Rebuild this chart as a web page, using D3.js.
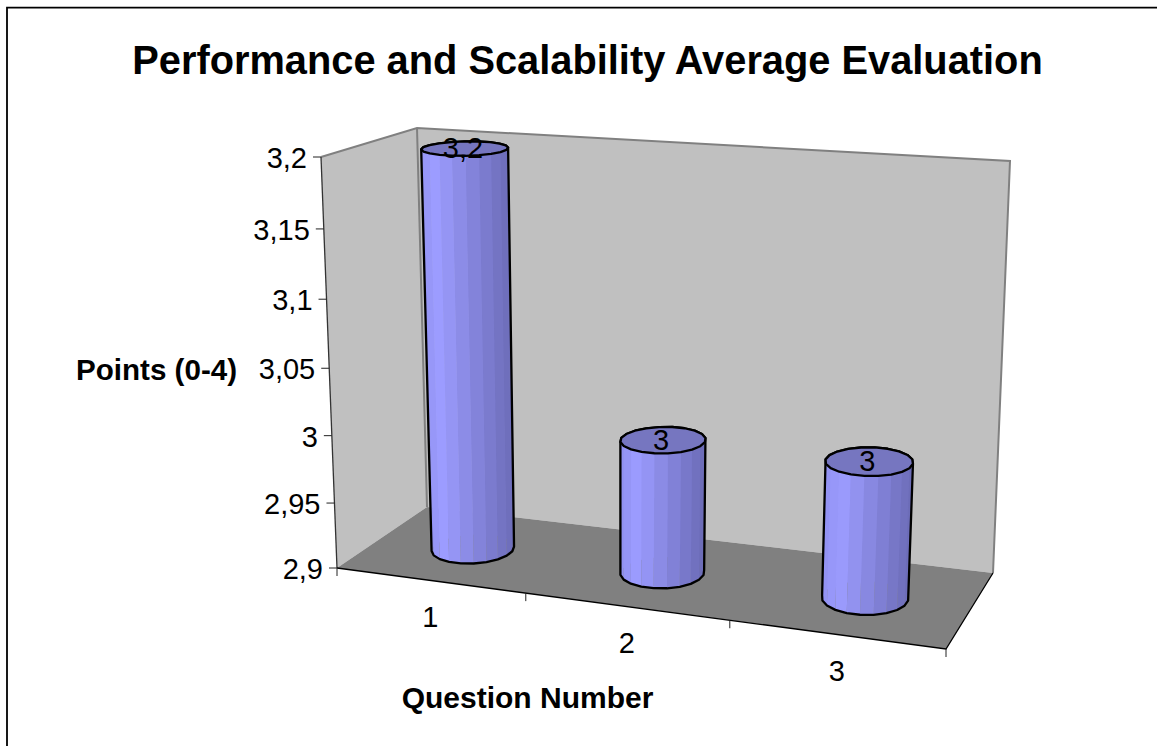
<!DOCTYPE html>
<html><head><meta charset="utf-8">
<script src="https://cdn.jsdelivr.net/npm/d3@7"></script>
<style>html,body{margin:0;padding:0;background:#fff}svg{display:block}text{font-family:"Liberation Sans",Arial,sans-serif;fill:#000}</style>
</head><body><svg id="c" width="1157" height="746"></svg>
<script>
const titleText = "Performance and Scalability Average Evaluation";
const xTitle = "Question Number";
const yTitle = "Points (0-4)";
const categories = [1, 2, 3];
const values = [3.2, 3, 3];
const yTicks = [2.9, 2.95, 3, 3.05, 3.1, 3.15, 3.2];

const svg = d3.select("#c");
const loc = d3.formatLocale({decimal:",",thousands:".",grouping:[3],currency:["","€"]});
const fmtTick = loc.format(".2~f"), fmtLabel = loc.format(".1~f");

// box corners: [depth][height] at left (L) and right (R) of the chart
const L = {fb:[337,568], ft:[321,157], bb:[427,507], bt:[417,128]};
const R = {fb:[946,649], ft:[966,202], bb:[993,573], bt:[1010,161]};
const lerp = (a,b,t)=>a+(b-a)*t;
const lerpP = (a,b,t)=>[lerp(a[0],b[0],t),lerp(a[1],b[1],t)];
// u along category axis, v depth, w height
function proj(u,v,w){
  const bot = lerpP(lerpP(L.fb,L.bb,v),lerpP(R.fb,R.bb,v),u);
  const top = lerpP(lerpP(L.ft,L.bt,v),lerpP(R.ft,R.bt,v),u);
  return lerpP(bot,top,w);
}
// piecewise ranges approximate the chart's perspective foreshortening
const yScale = d3.scaleLinear().domain(yTicks).range([0,0.158,0.322,0.486,0.654,0.825,1]);
const xScale = d3.scaleLinear().domain([0.5,1.5,2.5,3.5]).range([0,0.31,0.645,1]);
const line = d3.line();
const poly = (pts)=>line(pts)+"Z";

svg.append("path").attr("d",line([[7,746],[7,7.7],[1157,7.7]])).attr("fill","none").attr("stroke","#000").attr("stroke-width",1.8);

// walls
svg.append("path").attr("d",poly([L.fb,L.ft,L.bt,L.bb])).attr("fill","#c0c0c0");
svg.append("path").attr("d",poly([L.bb,L.bt,R.bt,R.bb])).attr("fill","#c0c0c0");
svg.append("path").attr("d",poly([L.fb,R.fb,R.bb,L.bb])).attr("fill","#808080");
// wall edges
svg.append("path").attr("d",line([L.ft,L.bt,R.bt,R.bb])).attr("fill","none").attr("stroke","#808080").attr("stroke-width",2);
svg.append("path").attr("d",line([L.bt,L.bb])).attr("fill","none").attr("stroke","#808080").attr("stroke-width",2);
// axis lines
svg.append("path").attr("d",line([L.ft,L.fb])).attr("fill","none").attr("stroke","#333").attr("stroke-width",1.3);
svg.append("path").attr("d",line([L.fb,R.fb,R.bb])).attr("fill","none").attr("stroke","#000").attr("stroke-width",1.3);

// y ticks
yTicks.forEach(t=>{
  const p = proj(0,0,yScale(t));
  svg.append("line").attr("x1",p[0]-8).attr("x2",p[0]).attr("y1",p[1]).attr("y2",p[1]).attr("stroke","#222").attr("stroke-width",1);
  svg.append("text").attr("x",p[0]-14).attr("y",p[1]+11).attr("text-anchor","end").attr("font-size",29).text(fmtTick(t));
});
// x ticks
[0.5,1.5,2.5,3.5].forEach(t=>{
  const p = proj(xScale(t),0,0);
  svg.append("line").attr("x1",p[0]).attr("x2",p[0]).attr("y1",p[1]).attr("y2",p[1]+8).attr("stroke","#222").attr("stroke-width",1);
});
categories.forEach((c,i)=>{
  const p = proj(xScale(c),0,0);
  svg.append("text").attr("x",p[0]-1).attr("y",p[1]+46.5).attr("text-anchor","middle").attr("font-size",29).text(c);
});

// bars
const N = 20, dv = 0.22;
const colorAt = d3.scaleLinear().domain([0,0.2,1]).range(["#9090f0","#9c9cff","#6a6ab4"]);
categories.forEach((c,i)=>{
  const uc = xScale(c), wTop = yScale(values[i]);
  const du = 0.061 + 0.012*uc;
  const ring = w => d3.range(N).map(k=>{
    const a = k/N*2*Math.PI + Math.PI/N;
    return {a, p:proj(uc+du*Math.cos(a), 0.5+dv*Math.sin(a), w), v:Math.sin(a)};
  });
  const b = ring(0), t = ring(wTop);
  const hull = d3.polygonHull(b.concat(t).map(d=>d.p));
  const g = svg.append("g");
  const xs = hull.map(p=>p[0]), x0=d3.min(xs), x1=d3.max(xs);
  const order = d3.range(N).sort((m,n)=>(b[n].v+b[(n+1)%N].v)-(b[m].v+b[(m+1)%N].v));
  order.forEach(k=>{
    const k2=(k+1)%N;
    const mid=(b[k].p[0]+b[k2].p[0]+t[k].p[0]+t[k2].p[0])/4;
    g.append("path").attr("d",poly([b[k].p,b[k2].p,t[k2].p,t[k].p]))
      .attr("fill",colorAt((mid-x0)/(x1-x0)));
  });
  g.append("path").attr("d",poly(hull)).attr("fill","none").attr("stroke","#000").attr("stroke-width",2.3).attr("stroke-linejoin","round");
  g.append("path").attr("d",poly(t.map(d=>d.p))).attr("fill","#7676c0").attr("stroke","#000").attr("stroke-width",2.3).attr("stroke-linejoin","round");
  const lp = proj(uc,0.5,wTop);
  svg.append("text").attr("x",lp[0]-2).attr("y",lp[1]+9.5).attr("text-anchor","middle").attr("font-size",29).text(fmtLabel(values[i]));
});

svg.append("text").attr("x",587.5).attr("y",74).attr("text-anchor","middle").attr("font-size",39.8).attr("font-weight","bold").text(titleText);
svg.append("text").attr("x",527.5).attr("y",708).attr("text-anchor","middle").attr("font-size",30).attr("font-weight","bold").text(xTitle);
svg.append("text").attr("x",156.5).attr("y",380).attr("text-anchor","middle").attr("font-size",29.6).attr("font-weight","bold").text(yTitle);
</script></body></html>
